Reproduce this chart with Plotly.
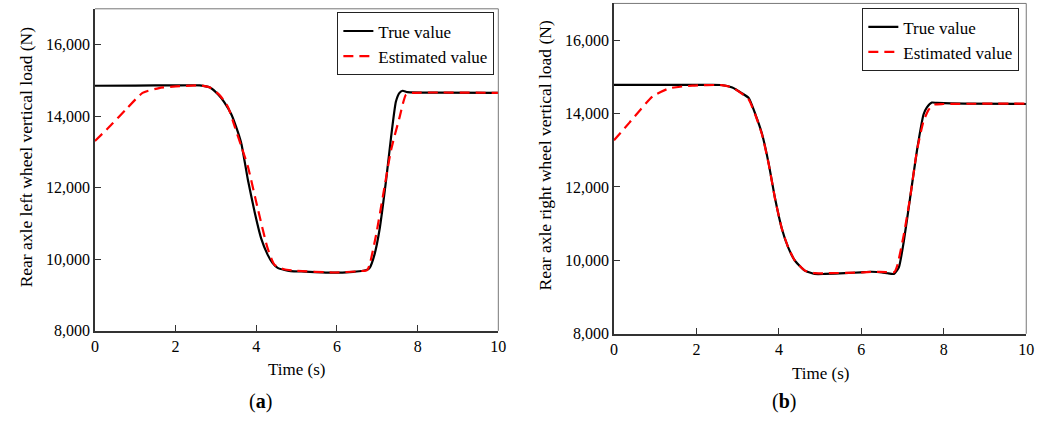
import plotly.graph_objects as go

# ---------------- data ----------------
t_true_a = [0, 1, 2, 2.6, 2.85, 3.06, 3.2, 3.38, 3.5, 3.63, 3.79, 3.96, 4.12, 4.28, 4.4, 4.53, 4.7, 4.85, 5.2, 5.91, 6.4, 6.65, 6.75, 6.81,
            6.93, 7.06, 7.22, 7.34, 7.46, 7.55, 7.63, 7.75, 8.5, 10]
y_true_a = [14850, 14855, 14860, 14860, 14800, 14600, 14400, 14055, 13700, 13230, 12230, 11315, 10585, 10130, 9900, 9760, 9700, 9670, 9655, 9625, 9650, 9680, 9710, 9760,
            10130, 10860, 12230, 13400, 14400, 14650, 14710, 14670, 14655, 14650]

t_est_a = [0, 0.4, 0.77, 1.18, 1.59, 2.0, 2.6, 2.85, 3.1, 3.3, 3.47, 3.63, 3.79, 4.04, 4.28, 4.45, 4.69, 5.0, 5.9, 6.6, 6.75,
           6.81, 6.97, 7.14, 7.34, 7.55, 7.71, 7.87, 10]
y_est_a = [13306, 13750, 14190, 14650, 14785, 14830, 14860, 14800, 14580, 14250, 13690, 13150, 12600, 11400, 10310, 9850, 9720, 9680, 9630, 9670, 9700,
           9850, 10680, 11770, 13050, 13960, 14600, 14650, 14650]

t_true_b = [0, 1, 2, 2.6, 2.87, 3.1, 3.27, 3.43, 3.59, 3.75, 3.91, 4.07, 4.23, 4.39, 4.63, 4.87, 5.11, 5.6, 5.99, 6.23, 6.5, 6.63, 6.79,
            6.91, 7.03, 7.19, 7.35, 7.51, 7.59, 7.71, 7.83, 8.5, 10]
y_true_b = [14780, 14780, 14780, 14778, 14710, 14555, 14420, 13980, 13450, 12650, 11670, 10870, 10340, 9990, 9720, 9630, 9630, 9650, 9675, 9690, 9675, 9650, 9630,
            9810, 10520, 11760, 13000, 13980, 14170, 14300, 14290, 14270, 14260]

t_est_b = [0, 0.38, 0.94, 1.35, 1.9, 2.6, 2.87, 3.1, 3.27, 3.43, 3.59, 3.75, 3.91, 4.07, 4.23, 4.39, 4.63, 4.87, 5.2, 6.0, 6.3, 6.6, 6.8,
           6.87, 7.03, 7.19, 7.35, 7.51, 7.63, 7.75, 7.99, 10]
y_est_b = [13270, 13760, 14470, 14690, 14760, 14775, 14710, 14540, 14380, 13960, 13430, 12640, 11660, 10870, 10340, 9990, 9720, 9650, 9650, 9670, 9690, 9680, 9680,
           9850, 10700, 11760, 13000, 13800, 14100, 14240, 14260, 14270]

x_ticks = [0, 2, 4, 6, 8, 10]
y_ticks = [8000, 10000, 12000, 14000, 16000]
y_title_a = "Rear axle left wheel vertical load (N)"
y_title_b = "Rear axle right wheel vertical load (N)"
x_title = "Time (s)"
names = ["True value", "Estimated value"]

FONT = "Liberation Serif, Times New Roman, serif"
W, H = 1056, 425

fig = go.Figure()

def add_pair(t1, y1, t2, y2, xa, ya, legend):
    fig.add_trace(go.Scatter(x=t1, y=y1, mode="lines", name=names[0],
                             line=dict(color="black", width=2.2, shape="spline", smoothing=0.5),
                             xaxis=xa, yaxis=ya, legend=legend, showlegend=True))
    fig.add_trace(go.Scatter(x=t2, y=y2, mode="lines", name=names[1],
                             line=dict(color="#ff0000", width=2.2, dash="10px,6px", shape="spline", smoothing=0.5),
                             xaxis=xa, yaxis=ya, legend=legend, showlegend=True))

add_pair(t_true_a, y_true_a, t_est_a, y_est_a, "x", "y", "legend")
add_pair(t_true_b, y_true_b, t_est_b, y_est_b, "x2", "y2", "legend2")

def px_x(p):
    return p / W

def px_y(p):
    return 1 - p / H

axis_common = dict(showline=True, linecolor="#333333", linewidth=1.6, ticks="inside", ticklen=6,
                   tickwidth=1.3, tickcolor="#333333", showgrid=False, zeroline=False,
                   tickfont=dict(family=FONT, size=16, color="black"))

legend_common = dict(xanchor="left", yanchor="top", bordercolor="#222222", borderwidth=1.2,
                     bgcolor="white", font=dict(family=FONT, size=17, color="black"),
                     tracegroupgap=0, itemwidth=30)

fig.update_layout(
    width=W, height=H, margin=dict(l=0, r=0, t=0, b=0),
    paper_bgcolor="white", plot_bgcolor="white",
    font=dict(family=FONT, color="black"),
    xaxis=dict(domain=[px_x(92), px_x(500)], range=[0, 10], tickvals=x_ticks, anchor="y", **axis_common),
    yaxis=dict(domain=[px_y(338), px_y(9)], range=[8000, 17000], tickvals=y_ticks, tickformat=",d",
               anchor="x", **axis_common),
    xaxis2=dict(domain=[px_x(617), px_x(1034)], range=[0, 10], tickvals=x_ticks, anchor="y2", **axis_common),
    yaxis2=dict(domain=[px_y(341), px_y(3.5)], range=[8000, 17000], tickvals=y_ticks, tickformat=",d",
                anchor="x2", **axis_common),
    legend=dict(x=px_x(337), y=px_y(12.5), **legend_common),
    legend2=dict(x=px_x(868), y=px_y(8.3), **legend_common),
)

# top/right frame lines (thin, lighter)
for xr, yr in [("x domain", "y domain"), ("x2 domain", "y2 domain")]:
    fig.add_shape(type="line", xref=xr, yref=yr, x0=0, x1=1, y0=1, y1=1,
                  line=dict(color="#777777", width=1))
    fig.add_shape(type="line", xref=xr, yref=yr, x0=1, x1=1, y0=0, y1=1,
                  line=dict(color="#777777", width=1))

def ann(text, x, y, size, angle=0):
    fig.add_annotation(text=text, x=px_x(x), y=px_y(y), xref="paper", yref="paper",
                       showarrow=False, textangle=angle, xanchor="center", yanchor="middle",
                       font=dict(family=FONT, size=size, color="black"))

ann(y_title_a, 22, 160, 17.5, -90)
ann(y_title_b, 547, 159, 17.5, -90)
ann(x_title, 296, 378, 17)
ann(x_title, 826, 382, 17)
ann("(<b>a</b>)", 259, 410, 20)
ann("(<b>b</b>)", 789, 410, 20)

fig.write_html("out.html", config={"displayModeBar": False},
               post_script="document.body.style.margin='0';")
